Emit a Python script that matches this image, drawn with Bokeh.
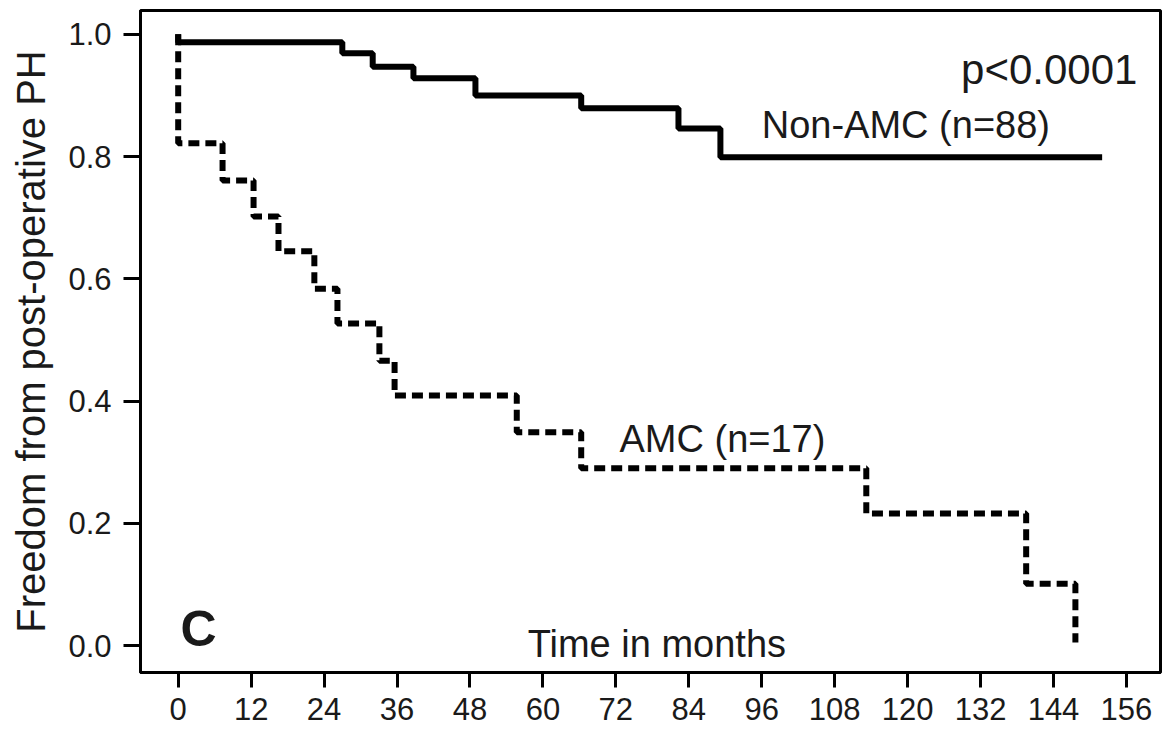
from bokeh.plotting import figure
from bokeh.models import FixedTicker, Range1d, Label, NumeralTickFormatter
from bokeh.embed import file_html
from bokeh.resources import INLINE

# Data
non_amc_time = [0, 0, 27.0, 32.0, 38.7, 48.9, 66.3, 82.3, 89.2, 152.0]
non_amc_surv = [1.0, 0.987, 0.969, 0.947, 0.928, 0.900, 0.879, 0.846, 0.799, 0.799]
amc_time = [0, 0, 7.3, 12.4, 16.5, 22.4, 26.2, 33.1, 35.6, 55.7, 66.3, 113.2, 139.5, 147.6]
amc_surv = [1.0, 0.822, 0.761, 0.702, 0.645, 0.584, 0.527, 0.466, 0.409, 0.349, 0.290, 0.216, 0.101, 0.005]
x_ticks = list(range(0, 157, 12))
y_ticks = [0.0, 0.2, 0.4, 0.6, 0.8, 1.0]

FONT = "Liberation Sans"
INK = "#1a1a1a"

p = figure(width=1163, height=735, output_backend="svg", toolbar_location=None,
           x_range=Range1d(-6.2, 161.6), y_range=Range1d(-0.044, 1.039),
           min_border_left=140, min_border_right=3, min_border_top=10, min_border_bottom=63)

p.grid.visible = False
p.outline_line_color = "black"
p.outline_line_width = 3
p.background_fill_color = "white"
p.border_fill_color = "white"

for ax in (p.xaxis[0], p.yaxis[0]):
    ax.axis_line_width = 3
    ax.axis_line_color = "black"
    ax.major_tick_line_width = 3
    ax.major_tick_line_color = "black"
    ax.major_tick_in = 0
    ax.minor_tick_line_color = None
    ax.major_label_text_font = FONT
    ax.major_label_text_font_size = "31px"
    ax.major_label_text_color = INK

p.xaxis.ticker = FixedTicker(ticks=x_ticks)
p.xaxis.major_tick_out = 15
p.xaxis.major_label_standoff = 10

p.yaxis.ticker = FixedTicker(ticks=y_ticks)
p.yaxis.formatter = NumeralTickFormatter(format="0.0")
p.yaxis.major_tick_out = 17
p.yaxis.major_label_standoff = 12
p.yaxis.axis_label = "Freedom from post-operative PH"
p.yaxis.axis_label_text_font = FONT
p.yaxis.axis_label_text_font_size = "40px"
p.yaxis.axis_label_text_font_style = "normal"
p.yaxis.axis_label_text_color = INK
p.yaxis.axis_label_standoff = 12

p.step(non_amc_time, non_amc_surv, mode="after", line_color="black", line_width=6)
p.step(amc_time, amc_surv, mode="after", line_color="black", line_width=6, line_dash="11 6")

def lab(x, y, t, size, align="left", style="normal"):
    p.add_layout(Label(x=x, y=y, text=t, text_font=FONT, text_font_size=size,
                       text_align=align, text_baseline="alphabetic",
                       text_color=INK, text_font_style=style))

lab(157.8, 0.942, "p<0.0001", "42px", align="right")
lab(96.0, 0.852, "Non-AMC (n=88)", "38px")
lab(72.6, 0.338, "AMC (n=17)", "38px")
lab(57.5, 0.002, "Time in months", "38px")
lab(0.4, 0.027, "C", "50px", style="bold")

open("out.html", "w").write(file_html(p, INLINE))
